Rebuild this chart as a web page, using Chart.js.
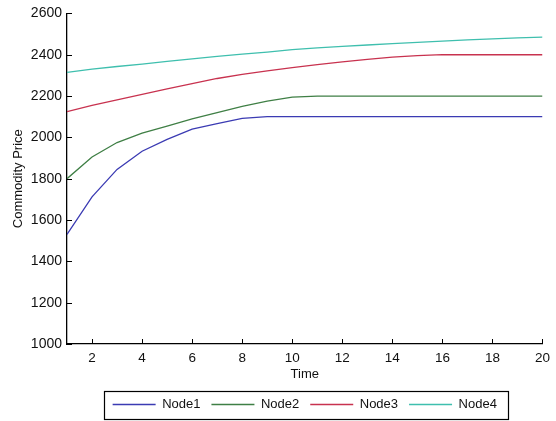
<!DOCTYPE html>
<html>
<head>
<meta charset="utf-8">
<script src="https://cdn.jsdelivr.net/npm/chart.js@4/dist/chart.umd.min.js"></script>
<style>
html,body{margin:0;padding:0;background:#fff;}
#wrap{width:556px;height:421px;}
</style>
</head>
<body>
<div id="wrap"><canvas id="c" width="556" height="421"></canvas></div>
<script>
const time = [1,2,3,4,5,6,7,8,9,10,11,12,13,14,15,16,17,18,19,20];
const node1 = [1530,1712,1845,1933,1990,2040,2066,2092,2100,2100,2100,2100,2100,2100,2100,2100,2100,2100,2100,2100];
const node2 = [1800,1905,1975,2020,2055,2090,2120,2150,2175,2195,2200,2200,2200,2200,2200,2200,2200,2200,2200,2200];
const node3 = [2125,2155,2182,2208,2235,2260,2285,2305,2322,2338,2352,2365,2377,2388,2396,2400,2400,2400,2400,2400];
const node4 = [2315,2330,2343,2355,2368,2380,2392,2403,2413,2425,2433,2440,2447,2454,2460,2466,2472,2477,2482,2485];
const xTicks = [2,4,6,8,10,12,14,16,18,20];
const yTicks = [1000,1200,1400,1600,1800,2000,2200,2400,2600];
const seriesNames = ['Node1','Node2','Node3','Node4'];
const seriesColors = ['#3b3bb3','#3f7f45','#c8324f','#3fbfae'];

const FONT = "'Liberation Sans', Arial, sans-serif";
const seriesValues = [node1,node2,node3,node4];

const datasets = seriesValues.map((vals,i)=>({
  label: seriesNames[i],
  data: vals.map((v,j)=>({x: time[j], y: v})),
  borderColor: seriesColors[i],
  backgroundColor: seriesColors[i],
  borderWidth: 1.3,
  pointRadius: 0,
  tension: 0,
  pointStyle: 'line'
}));

const innerTicks = {
  id: 'innerTicks',
  afterDraw(chart){
    const ctx = chart.ctx;
    const xs = chart.scales.x, ys = chart.scales.y;
    const ca = chart.chartArea;
    ctx.save();
    ctx.strokeStyle = '#000';
    ctx.lineWidth = 1;
    ctx.beginPath();
    xTicks.forEach(v=>{
      const px = Math.round(xs.getPixelForValue(v)) + 0.5;
      ctx.moveTo(px, ca.bottom);
      ctx.lineTo(px, ca.bottom - 5);
    });
    yTicks.forEach(v=>{
      const py = Math.round(ys.getPixelForValue(v)) + 0.5;
      ctx.moveTo(ca.left, py);
      ctx.lineTo(ca.left + 5, py);
    });
    ctx.stroke();
    const lg = chart.legend;
    if (lg && lg.legendHitBoxes && lg.legendHitBoxes.length){
      const hb = lg.legendHitBoxes;
      let l = Infinity, r = -Infinity, t = Infinity, b = -Infinity;
      hb.forEach(h=>{ l=Math.min(l,h.left); r=Math.max(r,h.left+h.width); t=Math.min(t,h.top); b=Math.max(b,h.top+h.height);});
      const cy = (t+b)/2;
      ctx.lineWidth = 1.2;
      ctx.strokeRect(Math.round(l-9)+0.5, Math.round(cy-14)+0.5, Math.round(r-l+20), 28);
    }
    ctx.restore();
  }
};

new Chart(document.getElementById('c'), {
  type: 'line',
  data: { datasets },
  plugins: [innerTicks],
  options: {
    responsive: false,
    animation: false,
    layout: { padding: { top: 12, right: 8, bottom: 0, left: 0 } },
    plugins: {
      tooltip: { enabled: false },
      legend: {
        display: true,
        position: 'bottom',
        fullSize: false,
        labels: {
          usePointStyle: true,
          pointStyleWidth: 43,
          padding: 11,
          color: '#111',
          font: { family: FONT, size: 13 }
        }
      }
    },
    scales: {
      x: {
        type: 'linear',
        min: 1, max: 20,
        afterBuildTicks: (s)=>{ s.ticks = xTicks.map(v=>({value:v})); },
        afterFit: (s)=>{ s.height = 43; },
        grid: { display: false, drawTicks: false },
        border: { display: true, color: '#000', width: 1.3 },
        ticks: { color: '#111', padding: 6, maxRotation: 0, font: { family: FONT, size: 13.5 }, callback: (v)=>String(v) },
        title: { display: true, text: 'Time', color: '#111', padding: { top: 0, bottom: 5 }, font: { family: FONT, size: 13 } }
      },
      y: {
        type: 'linear',
        min: 1000, max: 2600,
        afterBuildTicks: (s)=>{ s.ticks = yTicks.map(v=>({value:v})); },
        afterFit: (s)=>{ s.width = 67; },
        grid: { display: false, drawTicks: false },
        border: { display: true, color: '#000', width: 1.3 },
        ticks: { color: '#111', padding: 5, font: { family: FONT, size: 14 }, callback: (v)=>String(v) },
        title: { display: true, text: 'Commodity Price', color: '#111', padding: { top: 11, bottom: 0 }, font: { family: FONT, size: 13 } }
      }
    }
  }
});
</script>
</body>
</html>
